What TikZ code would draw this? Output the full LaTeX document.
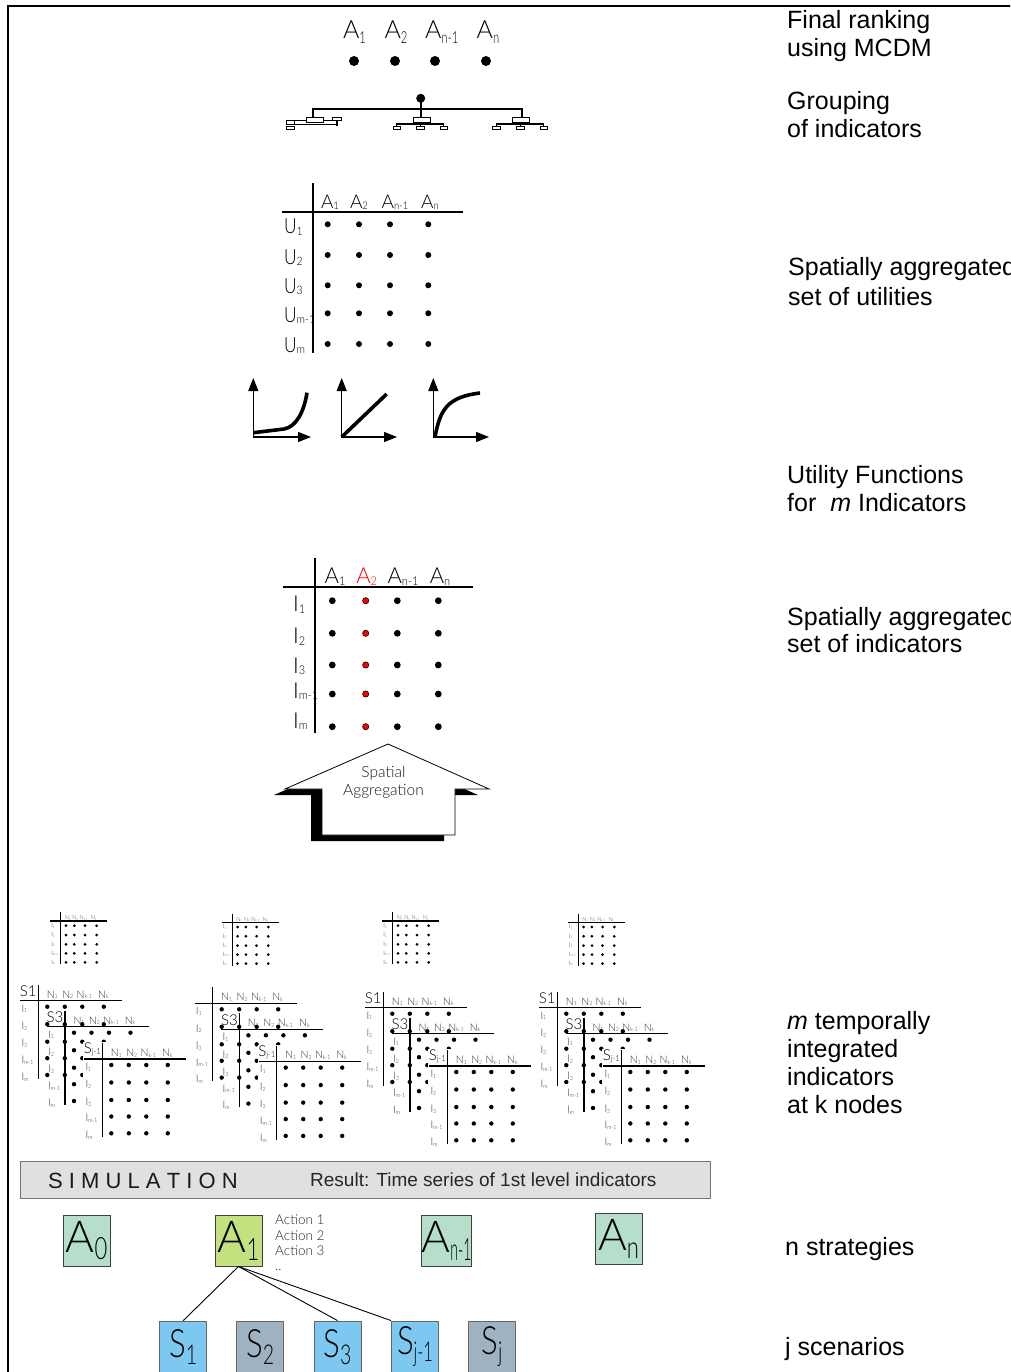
\documentclass[tikz,border=0pt]{standalone}
\usepackage{fontspec}
\setmainfont{Liberation Sans}
\newfontfamily\thinf{Lato Light}
\usetikzlibrary{arrows.meta}
\newcommand\fs[1]{\fontsize{#1}{#1}\selectfont}
\newcommand\tf[1]{\thinf\fontsize{#1}{#1}\selectfont}
\newcommand\sbs[1]{\raisebox{-0.08em}{\scalebox{0.5}[0.55]{#1}}}
\newcommand\sbt[1]{\raisebox{-0.2em}{\scalebox{0.45}[0.66]{#1}}}
\newcommand\sbb[1]{\raisebox{-0.18em}{\scalebox{0.5}[0.7]{#1}}}
\newcommand\nar[1]{\scalebox{0.82}[1]{#1}}
\definecolor{stratg}{HTML}{B5DFCA}
\definecolor{stratl}{HTML}{C3E17F}
\definecolor{scenb}{HTML}{7DC8F0}
\definecolor{sceng}{HTML}{9EB2C2}
\definecolor{simg}{HTML}{E0E0E0}
\newcommand\stackmat[4]{%
\begin{scope}[shift={(#1,#2)}]
\ifnum#4=1 \fill[white] (-19,-17) rectangle (90,84);\fi
\draw[line width=1.4pt] (-18,0) -- (84,0);
\draw[line width=1.4pt] (0,-16) -- (0,78);
\node[inner sep=0pt,font=\tf{15}] at (-10,-9.5) {#3};
\foreach \cx/\sx in {14/1,29.5/2,46/k-1,65/k}
  \node[inner sep=0pt,font=\tf{10.5},text=black!80] at (\cx,-6) {N\sbs{\sx}};
\foreach \ry/\sx in {6/1,23.5/2,41/3,57.5/m-1,74.3/m}
  \node[anchor=west,inner sep=0pt,font=\tf{10.5},text=black!80] at (-17,\ry+2) {I\sbs{\sx}};
\foreach \cx in {9,26.5,44,65.5}
  \foreach \ry in {6,23.5,41,57.5,74.3}
    \fill (\cx,\ry) circle (2.2pt);
\end{scope}}
\newcommand\smallmat[2]{%
\begin{scope}[shift={(#1,#2)}]
\draw[line width=1.2pt] (-10.7,0) -- (46.3,0);
\draw[line width=1.4pt] (0,-8.7) -- (0,43.3);
\foreach \cx/\sx in {7/1,14.5/2,23/k-1,33/k}
  \node[inner sep=0pt,font=\tf{5.5},text=black!70] at (\cx,-3) {N\sbs{\sx}};
\foreach \ry/\sx in {4.7/1,14/2,23.3/3,32.3/m-1,41.3/m}
  \node[anchor=west,inner sep=0pt,font=\tf{6},text=black!80] at (-9.5,\ry) {I\sbs{\sx}};
\foreach \cx in {5.3,13.6,24.3,36}
  \foreach \ry in {4.7,14,23.3,32.3,41.3}
    \fill (\cx,\ry) circle (1.5pt);
\end{scope}}
\begin{document}
\begin{tikzpicture}[x=1pt,y=-1pt]
\tikzset{
 rlab/.style={anchor=base west, inner sep=0pt, font=\fs{25}},
 strat/.style={draw=black!75, line width=0.9pt, minimum width=47pt, minimum height=51pt, inner sep=0pt, font=\tf{44}},
 scen/.style={draw=black!60, line width=0.9pt, minimum width=47pt, minimum height=52pt, inner sep=0pt, font=\tf{39}},
 axis/.style={line width=1.1pt, {Triangle[length=13pt,width=10pt]}-{Triangle[length=13pt,width=10pt]}},
 ucurve/.style={line width=3.6pt},
 tbox/.style={draw, fill=white, line width=0.7pt},
 mline/.style={line width=1.8pt},
}
\useasboundingbox (0,0) rectangle (1010,1372);
\clip (0,0) rectangle (1010,1372);
% frame
\draw[line width=2.2pt] (1015,6) -- (8,6) -- (8,1380);
% right labels
\node[rlab] (t1) at (787,29) {Final ranking};
\node[rlab] (t2) at (787,57) {using MCDM};
\node[rlab] (t3) at (787,110) {Grouping};
\node[rlab] (t4) at (787,138) {of indicators};
\node[rlab] (t5) at (788,276) {Spatially aggregated};
\node[rlab] (t6) at (788,305) {set of utilities};
\node[rlab] (t7) at (787,483) {Utility Functions};
\node[rlab] (t8) at (787,511) {for\ \ \textit{m} Indicators};
\node[rlab] (t9) at (787,625) {Spatially aggregated};
\node[rlab] (t10) at (787,652) {set of indicators};
\node[rlab] (t11) at (787,1029) {\textit{m} temporally};
\node[rlab] (t12) at (787,1057) {integrated};
\node[rlab] (t13) at (787,1085) {indicators};
\node[rlab] (t14) at (787,1113) {at k nodes};
\node[rlab] (t15) at (785,1255) {n strategies};
\node[rlab] (t16) at (785,1355) {j scenarios};
% final ranking
\foreach \x/\s/\n in {354.5/1/fa1,396/2/fa2,441.7/n-1/fa3,488/n/fa4}
  \node[anchor=base,inner sep=0pt,font=\tf{25}] (\n) at (\x,38.3) {A\sbt{\s}};
\foreach \x in {354,395,435,486} \fill (\x,61) circle (5pt);
% tree
\draw[mline] (420.7,98.3) -- (420.7,117.3);
\draw[mline] (313.3,117) -- (313.3,109.3) -- (521.7,109.3) -- (521.7,117.3);
\fill (420.7,98.3) circle (4.5pt);
\draw[line width=1.4pt] (396.7,127) -- (396.7,124) -- (443.6,124) -- (443.6,127);
\draw[line width=1.4pt] (420.3,122) -- (420.3,127);
\draw[line width=1.4pt] (496.4,127) -- (496.4,124) -- (543.6,124) -- (543.6,127);
\draw[line width=1.4pt] (520.4,122) -- (520.4,127);
\draw[line width=1.2pt] (290,120.7) -- (337,120.7);
\draw[line width=1.2pt] (294,124.5) -- (337,124.5);
\draw[line width=1.2pt] (337,120) -- (337,126);
\draw[tbox] (413.3,117.3) rectangle (430.7,122.7);
\foreach \x in {393.3,416.7,440} \draw[tbox] (\x,126) rectangle (\x+7.3,129.3);
\draw[tbox] (512.7,117.3) rectangle (529.3,122.7);
\foreach \x in {492.7,516.7,540} \draw[tbox] (\x,126) rectangle (\x+7.3,129.3);
\draw[tbox] (306,117) rectangle (323,122.7);
\draw[tbox] (332.7,117.3) rectangle (341.3,120);
\draw[tbox] (286,120.7) rectangle (294,124);
\draw[tbox] (286,126) rectangle (294,129.3);
% utility matrix
\draw[mline] (312.7,183.3) -- (312.7,353.3);
\draw[mline] (281.7,212.3) -- (462.7,212.3);
\foreach \x/\s in {330/1,359/2,395/n-1,430/n}
  \node[anchor=base,inner sep=0pt,font=\tf{19}] at (\x,208.3) {A\sbs{\s}};
\foreach \y/\s in {234/1,264/2,293/3,322/m-1,352/m}
  \node[anchor=base west,inner sep=0pt,font=\tf{21}] at (284,\y) {\nar{U}\sbs{\s}};
\foreach \y in {224.3,255,285.3,313.3,344}
  \foreach \x in {327.7,359,390,428.3}
    \fill (\x,\y) circle (3pt);
% utility functions
\draw[axis] (253.3,378) -- (253.3,437) -- (311,437);
\draw[ucurve] (253.3,432.7) -- (284,429) .. controls (296,427) and (304,412) .. (307,392.7);
\draw[axis] (341.7,378) -- (341.7,437) -- (397,437);
\draw[ucurve] (341.7,437) -- (386.7,394);
\draw[axis] (433.3,378) -- (433.3,437) -- (489,437);
\draw[ucurve] (435,437) .. controls (440,410) and (447,397) .. (480,393);
% indicator matrix
\draw[mline] (315,558.3) -- (315,733.3);
\draw[mline] (283.3,587.3) -- (472.7,587.3);
\foreach \x/\s/\cl in {335/1/black,366.7/2/red,403/n-1/black,440/n/black}
  \node[anchor=base,inner sep=0pt,font=\tf{22},text=\cl] at (\x,583.3) {A\sbs{\s}};
\foreach \y/\s in {611.7/1,643.3/2,673/3,698/m-1,728/m}
  \node[anchor=base west,inner sep=0pt,font=\tf{22}] at (293,\y) {I\sbs{\s}};
\foreach \y in {600.7,633.3,665,694,726.7}{
  \foreach \x in {332.3,397.3,438.3} \fill (\x,\y) circle (3.4pt);
  \filldraw[fill=red,draw=black,line width=0.6pt] (365.7,\y) circle (3.1pt);
}
% spatial aggregation arrow
\fill[black, shift={(-11,6)}] (388,744) -- (489,789) -- (455,789) -- (455,835) -- (322,835) -- (322,789) -- (285,789) -- cycle;
\filldraw[fill=white, draw=black, line width=0.8pt] (388,744) -- (489,789) -- (455,789) -- (455,835) -- (322,835) -- (322,789) -- (285,789) -- cycle;
\node[anchor=base,inner sep=0pt,font=\tf{15.5},text=black!90] (sp1) at (383.5,777) {Spatial};
\node[anchor=base,inner sep=0pt,font=\tf{15.5},text=black!90] (sp2) at (383.5,795) {Aggregation};
% small matrices
\smallmat{60.7}{921}
\smallmat{232.3}{922.3}
\smallmat{392.7}{921}
\smallmat{578.3}{922.3}
% stacked matrices
\stackmat{38.3}{1000.7}{S1}{0}
\stackmat{65}{1026.7}{S3}{0}
\stackmat{102.3}{1059}{S\sbs{j-1}}{1}
\stackmat{212.7}{1003.3}{}{0}
\stackmat{239.4}{1029.3}{S3}{0}
\stackmat{276.7}{1061.6}{S\sbs{j-1}}{1}
\stackmat{383.3}{1007.7}{S1}{0}
\stackmat{410}{1033.7}{S3}{0}
\stackmat{447.3}{1066}{S\sbs{j-1}}{1}
\stackmat{557.3}{1007.7}{S1}{0}
\stackmat{584}{1033.7}{S3}{0}
\stackmat{621.3}{1066}{S\sbs{j-1}}{1}
% simulation bar
\node[draw=black!55, fill=simg, line width=1pt, minimum width=690pt, minimum height=37pt, inner sep=0pt] (sim) at (365,1179.5) {};
\node[anchor=base west,inner sep=0pt,font=\fs{22},text=black!90] (simA) at (48,1188) {S I M U L A T I O N};
\node[anchor=base west,inner sep=0pt,font=\fs{19},text=black!85] (simB) at (310,1186) {Result: Time series of 1st level indicators};
% strategies
\node[strat, fill=stratg] (A0) at (86.5,1240.5) {A\sbb{0}};
\node[strat, fill=stratl] (A1) at (238.5,1240.5) {A\sbb{1}};
\node[strat, fill=stratg] (An1) at (446.5,1240.5) {A\raisebox{-0.18em}{\scalebox{0.32}[0.7]{n-1}}};
\node[strat, fill=stratg] (An) at (618.5,1238.5) {A\sbb{n}};
\node[anchor=base west,inner sep=0pt,font=\tf{13.5},text=black!85] (ac1) at (275,1224.5) {Action 1};
\node[anchor=base west,inner sep=0pt,font=\tf{13.5},text=black!85] (ac2) at (275,1240) {Action 2};
\node[anchor=base west,inner sep=0pt,font=\tf{13.5},text=black!85] (ac3) at (275,1255.5) {Action 3};
\node[anchor=base west,inner sep=0pt,font=\tf{13.5},text=black!85] (ac4) at (275,1270) {..};
% scenarios
\node[scen, fill=scenb] (S1) at (183.3,1347) {\scalebox{0.8}[1]{S}\sbb{1}};
\node[scen, fill=sceng] (S2) at (260.3,1347) {\scalebox{0.8}[1]{S}\sbb{2}};
\node[scen, fill=scenb] (S3) at (337.5,1347) {\scalebox{0.8}[1]{S}\sbb{3}};
\node[scen, fill=scenb] (Sj1) at (415,1347) {\scalebox{0.8}[1]{S}\raisebox{-0.18em}{\scalebox{0.42}[0.7]{j-1}}};
\node[scen, fill=sceng] (Sj) at (492,1347) {\scalebox{0.8}[1]{S}\sbb{j}};
\draw[line width=0.9pt] (A1.south) -- (S1.north);
\draw[line width=0.9pt] (A1.south) -- (S3.north);
\draw[line width=0.9pt] (A1.south) -- (Sj1.north west);
\end{tikzpicture}
\end{document}
